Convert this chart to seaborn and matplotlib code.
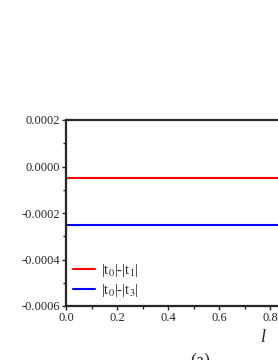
from matplotlib import pyplot as plt
from matplotlib.ticker import MultipleLocator
import pandas as pd
import seaborn as sns

# data
l_values = [0.0, 0.2, 0.4, 0.6, 0.8, 1.0]
diff_t0_t1 = [-0.00005, -0.00005, -0.00005, -0.00005, -0.00005, -0.00005]
diff_t0_t3 = [-0.00025, -0.00025, -0.00025, -0.00025, -0.00025, -0.00025]
series_names = [r'|t$_0$|-|t$_1$|', r'|t$_0$|-|t$_3$|']
series_colors = ['#ff0000', '#0000ff']

df = pd.concat([
    pd.DataFrame({'l': l_values, 'value': diff_t0_t1, 'series': series_names[0]}),
    pd.DataFrame({'l': l_values, 'value': diff_t0_t3, 'series': series_names[1]}),
])

sns.set_style('ticks')
plt.rcParams['font.family'] = ['Liberation Serif', 'DejaVu Serif']
plt.rcParams['mathtext.fontset'] = 'stix'
plt.rcParams['axes.unicode_minus'] = False

fig = plt.figure(figsize=(2.78, 3.6), dpi=100)
ax = fig.add_axes([66 / 278, 54 / 360, 255 / 278, 186 / 360])
sns.lineplot(df, x='l', y='value', hue='series', hue_order=series_names,
             palette=series_colors, linewidth=1.5, ax=ax)

ax.set_xlim(0, 1.0)
ax.set_ylim(-0.0006, 0.0002)
ax.xaxis.set_major_locator(MultipleLocator(0.2))
ax.xaxis.set_minor_locator(MultipleLocator(0.1))
ax.yaxis.set_major_locator(MultipleLocator(0.0002))
ax.yaxis.set_minor_locator(MultipleLocator(0.0001))
ax.set_xticklabels([f'{v:.1f}' for v in ax.get_xticks()])
ax.set_yticklabels([f'{v:.4f}'.replace('-0.0000', '0.0000') for v in ax.get_yticks()])
ax.tick_params(which='major', direction='out', length=3, width=1, labelsize=9, pad=1)
ax.tick_params(which='minor', direction='out', length=2, width=1)
for side in ax.spines.values():
    side.set_linewidth(1.6)

ax.set_xlabel('')
ax.set_ylabel('')
ax.legend(loc='lower left', frameon=False, fontsize=10.5, handlelength=1.5,
          handletextpad=0.4, borderaxespad=0.1, labelspacing=0.2)

fig.text(263 / 278, 1 - 338 / 360, 'l', fontsize=13, style='italic',
         ha='center', va='center')
fig.text(200 / 278, 1 - 361 / 360, '(a)', fontsize=13, ha='center', va='center')

plt.savefig('out.png', dpi=100)
plt.close()
